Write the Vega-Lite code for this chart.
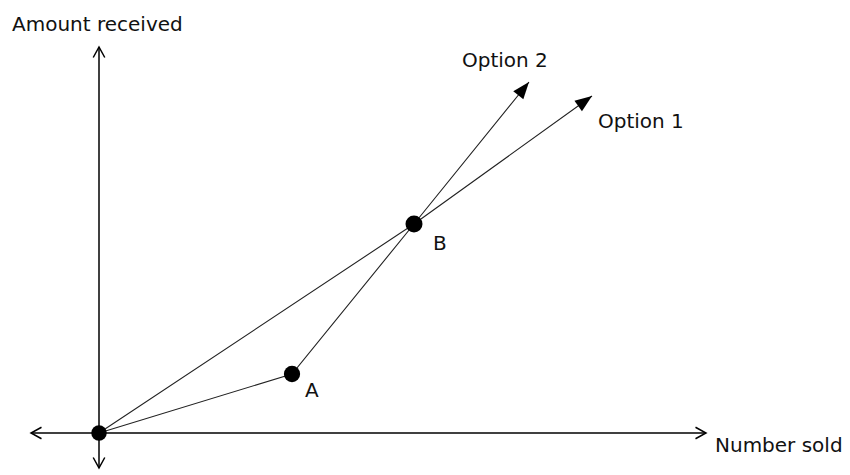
{
  "$schema": "https://vega.github.io/schema/vega-lite/v6.json",
  "width": 850,
  "height": 475,
  "autosize": {"type": "fit", "contains": "padding"},
  "padding": 0,
  "background": "white",
  "config": {"view": {"stroke": null}},
  "datasets": {
    "axes": [
      {"seg": "xaxis", "ord": 1, "x": -6.8, "y": 0},
      {"seg": "xaxis", "ord": 2, "x": 60.7, "y": 0},
      {"seg": "yaxis", "ord": 1, "x": 0, "y": -3.5},
      {"seg": "yaxis", "ord": 2, "x": 0, "y": 38.6}
    ],
    "lines": [
      {"option": "Option 1", "ord": 1, "x": 0, "y": 0},
      {"option": "Option 1", "ord": 2, "x": 31.5, "y": 20.9},
      {"option": "Option 1", "ord": 3, "x": 49.3, "y": 33.7},
      {"option": "Option 2", "ord": 1, "x": 0, "y": 0},
      {"option": "Option 2", "ord": 2, "x": 19.3, "y": 5.9},
      {"option": "Option 2", "ord": 3, "x": 31.5, "y": 20.9},
      {"option": "Option 2", "ord": 4, "x": 43.0, "y": 35.1}
    ],
    "points": [
      {"name": "O", "x": 0, "y": 0},
      {"name": "A", "x": 19.3, "y": 5.9},
      {"name": "B", "x": 31.5, "y": 20.9}
    ],
    "heads": [
      {"option": "Option 2", "x": 43.0, "y": 35.1, "heading": 39},
      {"option": "Option 1", "x": 49.3, "y": 33.7, "heading": 54.3}
    ],
    "chevrons": [
      {"end": "left", "x": -6.8, "y": 0, "heading": 270},
      {"end": "right", "x": 60.7, "y": 0, "heading": 90},
      {"end": "top", "x": 0, "y": 38.6, "heading": 0},
      {"end": "bottom", "x": 0, "y": -3.5, "heading": 180}
    ],
    "labels": [
      {"text": "Amount received", "x": -8.7, "y": 40.2},
      {"text": "Number sold", "x": 61.6, "y": -1.9},
      {"text": "Option 2", "x": 36.3, "y": 36.6},
      {"text": "Option 1", "x": 49.9, "y": 30.5},
      {"text": "B", "x": 33.4, "y": 18.3},
      {"text": "A", "x": 20.6, "y": 3.6}
    ]
  },
  "encoding": {
    "x": {"field": "x", "type": "quantitative", "axis": null, "scale": {"domain": [-9.9, 75.1], "nice": false, "zero": false}},
    "y": {"field": "y", "type": "quantitative", "axis": null, "scale": {"domain": [-4.2, 43.3], "nice": false, "zero": false}}
  },
  "layer": [
    {
      "data": {"name": "axes"},
      "mark": {"type": "line", "color": "#000", "strokeWidth": 1.5},
      "encoding": {"detail": {"field": "seg"}, "order": {"field": "ord"}}
    },
    {
      "data": {"name": "lines"},
      "mark": {"type": "line", "color": "#222", "strokeWidth": 1.1},
      "encoding": {"detail": {"field": "option"}, "order": {"field": "ord"}}
    },
    {
      "data": {"name": "chevrons"},
      "mark": {"type": "point", "shape": "M-0.55,1L0,0L0.55,1", "filled": false, "stroke": "#000", "strokeWidth": 1.5, "size": 441, "opacity": 1},
      "encoding": {"angle": {"field": "heading", "type": "quantitative", "scale": null}}
    },
    {
      "data": {"name": "heads"},
      "mark": {"type": "point", "shape": "M0,0L0.38,1L-0.38,1Z", "filled": true, "color": "#000", "size": 1156, "opacity": 1},
      "encoding": {"angle": {"field": "heading", "type": "quantitative", "scale": null}}
    },
    {
      "data": {"name": "points"},
      "mark": {"type": "circle", "color": "#000", "opacity": 1},
      "encoding": {
        "size": {"field": "name", "type": "nominal", "scale": {"domain": ["O", "A", "B"], "range": [240, 289, 400]}, "legend": null}
      }
    },
    {
      "data": {"name": "labels"},
      "mark": {"type": "text", "align": "left", "baseline": "alphabetic", "font": "DejaVu Sans", "fontSize": 20, "color": "#111"},
      "encoding": {"text": {"field": "text"}}
    }
  ]
}
